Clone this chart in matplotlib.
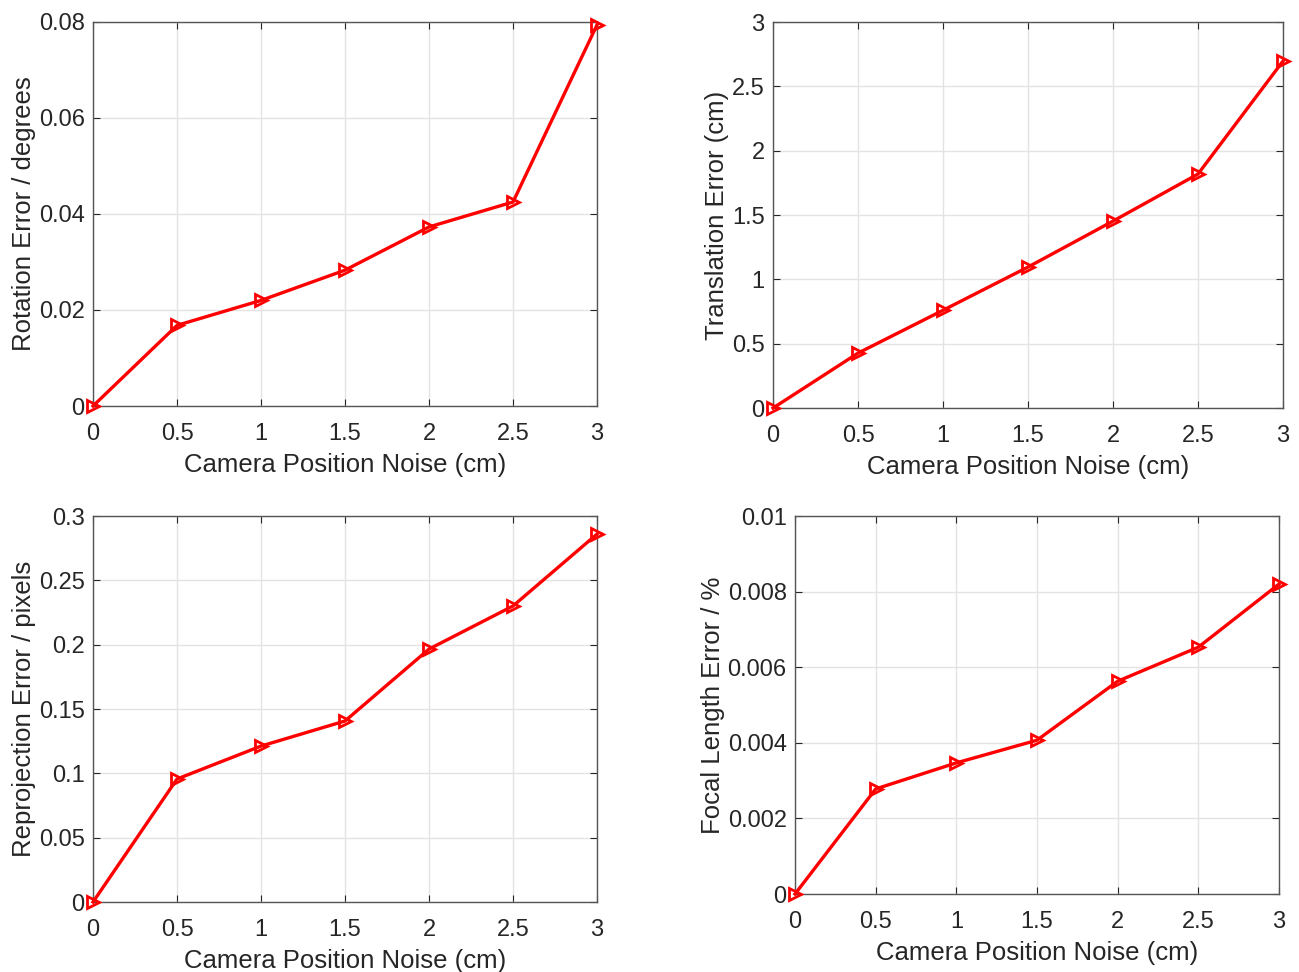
import numpy as np
import matplotlib.pyplot as plt
from matplotlib.ticker import FuncFormatter

plt.rcParams['font.family'] = ['Liberation Sans', 'DejaVu Sans']

noise = [0, 0.5, 1, 1.5, 2, 2.5, 3]
rotation_err = [0, 0.0168, 0.0220, 0.0283, 0.0373, 0.0425, 0.0794]
translation_err = [0, 0.427, 0.76, 1.096, 1.453, 1.819, 2.697]
reproj_err = [0, 0.0956, 0.1212, 0.1407, 0.1966, 0.2301, 0.286]
focal_err = [0, 0.00278, 0.00347, 0.00407, 0.00563, 0.00653, 0.0082]

x_label = "Camera Position Noise (cm)"

panels = [
    # data, ylabel, ymax, ystep, axes rect
    (rotation_err, "Rotation Error / degrees", 0.08, 0.02, [0.0716, 0.5823, 0.388, 0.3951]),
    (translation_err, "Translation Error (cm)", 3, 0.5, [0.5951, 0.5802, 0.3926, 0.3971]),
    (reproj_err, "Reprojection Error / pixels", 0.3, 0.05, [0.0716, 0.0720, 0.388, 0.3971]),
    (focal_err, "Focal Length Error / %", 0.01, 0.002, [0.6120, 0.0802, 0.3726, 0.3889]),
]

fig = plt.figure(figsize=(12.99, 9.72), dpi=100)
dark = "#262626"

for vals, ylab, ymax, ystep, rect in panels:
    ax = fig.add_axes(rect)
    ax.plot(noise, vals, color="red", lw=2.4, marker=">", ms=9,
            mfc="none", mew=2, clip_on=False, zorder=3)
    ax.set_xlim(0, 3)
    ax.set_ylim(0, ymax)
    ax.set_xticks(np.arange(0, 3.01, 0.5))
    ax.set_yticks(np.arange(0, ymax + ystep / 2, ystep))
    fmt = FuncFormatter(lambda v, p: "%g" % round(v, 6))
    ax.xaxis.set_major_formatter(fmt)
    ax.yaxis.set_major_formatter(fmt)
    ax.grid(True, color="#e3e3e3", lw=1)
    ax.set_axisbelow(True)
    ax.tick_params(direction="in", top=True, right=True, length=5,
                   labelsize=17, colors=dark, pad=6)
    ax.tick_params(axis="x", pad=12)
    for s in ax.spines.values():
        s.set_color("#555555")
        s.set_linewidth(1)
    ax.set_xlabel(x_label, fontsize=18.5, color=dark, labelpad=6)
    ax.set_ylabel(ylab, fontsize=18.5, color=dark, labelpad=2)

fig.savefig("out.png", dpi=100, facecolor="white")
